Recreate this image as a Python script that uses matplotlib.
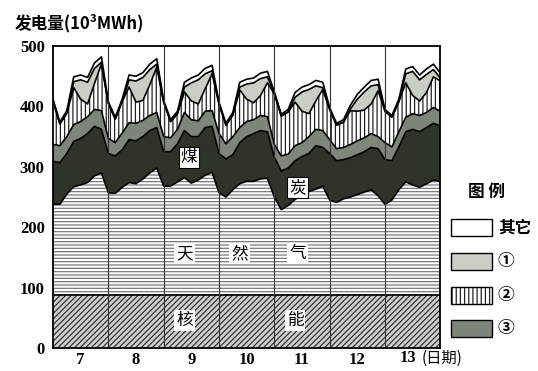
import matplotlib.pyplot as plt
import numpy as np
from matplotlib.patches import Rectangle

plt.rcParams['font.family'] = ['Noto Sans CJK SC', 'DejaVu Sans']
plt.rcParams['hatch.linewidth'] = 0.9

# one value every 3 hours, days 7..13 (last value = end of day 13)
days = [7, 8, 9, 10, 11, 12, 13]
hours = np.arange(0, 169, 3)

nuclear = [88] * 57
gas = [150, 150, 167, 179, 182, 186, 197, 202,
       169, 168, 178, 186, 184, 192, 202, 210,
       180, 180, 187, 194, 185, 190, 198, 203,
       169, 162, 174, 184, 188, 188, 192, 193,
       162, 141, 148, 158, 165, 171, 175, 180,
       157, 153, 159, 162, 166, 170, 174, 164,
       150, 157, 174, 187, 182, 178, 184, 190, 188]
coal = [71, 69, 67, 75, 77, 81, 82, 72,
        65, 62, 62, 71, 71, 70, 70, 67,
        57, 57, 63, 78, 77, 72, 79, 76,
        65, 63, 58, 68, 74, 79, 80, 77,
        66, 64, 62, 64, 64, 63, 72, 64,
        77, 69, 65, 65, 66, 67, 70, 78,
        74, 65, 71, 83, 92, 92, 93, 94, 92]
src3 = [28, 28, 28, 28, 28, 28, 28, 31,
        25, 22, 28, 28, 29, 27, 25, 25,
        25, 23, 24, 30, 28, 26, 27, 26,
        33, 25, 30, 25, 25, 23, 25, 25,
        21, 25, 23, 25, 23, 28, 27, 28,
        23, 20, 20, 22, 23, 23, 23, 20,
        28, 23, 25, 24, 26, 27, 25, 26, 24]
src2 = [72, 36, 39, 61, 37, 21, 43, 77,
        58, 39, 52, 59, 35, 33, 51, 75,
        57, 27, 26, 34, 31, 28, 37, 61,
        49, 31, 36, 62, 37, 28, 33, 56,
        84, 66, 70, 72, 52, 38, 47, 68,
        50, 39, 42, 56, 49, 46, 49, 76,
        52, 49, 50, 57, 30, 24, 33, 51, 50]
src1 = [0, 0, 0, 10, 32, 36, 25, 3,
        0, 0, 0, 12, 35, 38, 25, 5,
        0, 0, 0, 8, 30, 40, 25, 5,
        0, 0, 0, 5, 25, 33, 28, 10,
        0, 0, 0, 8, 32, 40, 25, 3,
        0, 0, 0, 3, 20, 30, 30, 10,
        0, 0, 0, 15, 40, 35, 30, 12, 5]
other = [3, 3, 4, 8, 8, 8, 9, 9,
         3, 3, 4, 8, 8, 8, 9, 9,
         3, 3, 4, 8, 8, 8, 9, 9,
         3, 3, 4, 8, 8, 8, 9, 9,
         3, 3, 4, 8, 8, 8, 9, 9,
         3, 3, 4, 6, 8, 8, 9, 9,
         3, 3, 4, 8, 8, 8, 9, 9, 8]

layers = [nuclear, gas, coal, src3, src2, src1, other]
styles = [  # facecolor, hatch, hatch colour
    ('#cfcfcf', '//////', '#333333'),
    ('white', '-----', '#7a7a7a'),
    ('#2f3429', None, 'none'),
    ('#7e8679', None, 'none'),
    ('white', '||||', '#222222'),
    ('#c9cec4', None, 'none'),
    ('white', None, 'none'),
]

fig = plt.figure(figsize=(5.38, 3.71), dpi=100)
ax = fig.add_axes([0.0985, 0.062, 0.72, 0.814])

base = np.zeros(len(hours))
for vals, (fc, hatch, hc) in zip(layers, styles):
    top = base + np.array(vals)
    ax.fill_between(hours, base, top, facecolor=fc, hatch=hatch,
                    edgecolor=hc, linewidth=0)
    ax.plot(hours, top, color='black', lw=1.2, solid_joinstyle='round')
    base = top

for d in range(1, 7):
    ax.axvline(d * 24, color='#333333', lw=0.8)

ax.set_xlim(0, 168)
ax.set_ylim(0, 500)
ax.set_yticks(range(0, 501, 100))
ax.set_yticklabels([str(v) for v in range(0, 501, 100)],
                   family='Liberation Serif', weight='bold', fontsize=12)
ax.set_xticks([12 + 24 * i for i in range(6)])
ax.set_xticklabels([str(d) for d in days[:6]],
                   family='Liberation Serif', weight='bold', fontsize=12)
ax.tick_params(length=0, pad=6)
ax.tick_params(axis='x', pad=3)
for s in ax.spines.values():
    s.set_linewidth(1.3)

ax.text(150.5, -4, '13', family='Liberation Serif', weight='bold',
        fontsize=12, ha='left', va='top')
ax.text(160, -3, '(日期)', fontsize=11, ha='left', va='top')

fig.text(0.028, 0.938, '发电量(10³MWh)', fontsize=12, fontweight='bold',
         ha='left', va='center')

# labels inside the areas
box = dict(facecolor='white', edgecolor='black', lw=0.8, pad=1.5)
ax.text(59, 315, '煤', fontsize=12, ha='center', va='center', bbox=box)
ax.text(106, 265, '炭', fontsize=12, ha='center', va='center', bbox=box)
plain = dict(facecolor='white', edgecolor='none', pad=1.5)
for x, t in [(57, '天'), (81, '然'), (106, '气')]:
    ax.text(x, 156, t, fontsize=12, ha='center', va='center', bbox=plain)
for x, t in [(57, '核'), (105, '能')]:
    ax.text(x, 45, t, fontsize=12, ha='center', va='center', bbox=plain)

# legend
fig.text(486 / 538, 1 - 192 / 371, '图 例', fontsize=12, fontweight='bold',
         ha='center', va='center')
legend_items = [('其它', 'white', None, 'none', 228),
                ('①', '#c9cec4', None, 'none', 261),
                ('②', 'white', '||||', '#222222', 295),
                ('③', '#7e8679', None, 'none', 328)]
for label, fc, hatch, hc, yc in legend_items:
    fig.add_artist(Rectangle((451 / 538, 1 - (yc + 8.5) / 371), 41 / 538, 17 / 371,
                             transform=fig.transFigure, facecolor=fc,
                             hatch=hatch, edgecolor=hc, lw=0))
    fig.add_artist(Rectangle((451 / 538, 1 - (yc + 8.5) / 371), 41 / 538, 17 / 371,
                             transform=fig.transFigure, facecolor='none',
                             edgecolor='black', lw=1.0))
    fig.text(498 / 538, 1 - yc / 371, label, fontsize=12, fontweight='bold',
             ha='left', va='center')

plt.savefig('out.png', dpi=100)
